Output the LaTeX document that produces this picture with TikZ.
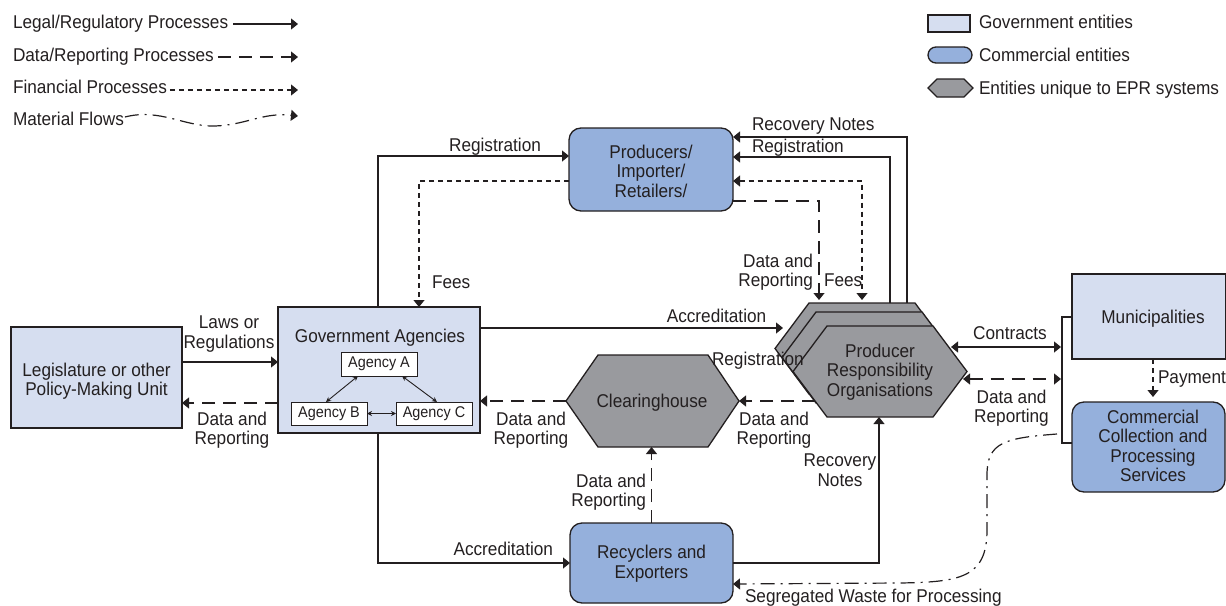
\documentclass[tikz,border=0pt]{standalone}
\usepackage{fontspec}
\setmainfont{Liberation Sans}[FakeStretch=0.93]
\usetikzlibrary{arrows.meta,calc}
\definecolor{ink}{HTML}{231F20}
\definecolor{govc}{HTML}{D6DEF0}
\definecolor{comc}{HTML}{95B0DC}
\definecolor{eprc}{HTML}{999A9E}
\newcommand{\lblfont}{\fontsize{18.5}{19.5}\selectfont}
\newcommand{\agfont}{\fontsize{15.5}{17}\selectfont}
\begin{document}
\begin{tikzpicture}[x=1pt,y=-1pt,
  every node/.style={text=ink, font=\lblfont, inner sep=0pt, outer sep=0pt},
  lbl/.style={align=center},
  gbox/.style={draw=ink, line width=1.3pt, fill=govc},
  cbox/.style={draw=ink, line width=1.3pt, fill=comc, rounded corners=12pt},
  ebox/.style={draw=ink, line width=1.3pt, fill=eprc, line join=miter},
  agbox/.style={draw=ink, line width=1pt, fill=white, font=\agfont, minimum width=76pt, minimum height=23pt},
  conn/.style={draw=ink, line width=1.2pt},
  arr/.style={-{Triangle[length=7pt,width=11pt]}},
  arrr/.style={{Triangle[length=7pt,width=11pt]}-{Triangle[length=7pt,width=11pt]}},
  agarr/.style={draw=ink, line width=0.9pt, {Stealth[length=5pt,width=5pt]}-{Stealth[length=5pt,width=5pt]}},
  data/.style={dash pattern=on 13pt off 8pt},
  fin/.style={dash pattern=on 5pt off 4pt},
  mat/.style={dash pattern=on 14pt off 6pt on 2pt off 6pt}
]
\useasboundingbox (0,0) rectangle (1226,605);

% ---------- legend left ----------
\node[anchor=base west] (l1) at (13,28) {Legal/Regulatory Processes};
\node[anchor=base west] (l2) at (13,61) {Data/Reporting Processes};
\node[anchor=base west] (l3) at (13,93) {Financial Processes};
\node[anchor=base west] (l4) at (13,125) {Material Flows};
\coordinate (l1e) at (298,24);
\coordinate (l2e) at (298,57);
\coordinate (l3e) at (298,90);
\coordinate (l4e) at (298,116);
\draw[conn,arr] ([xshift=5pt]l1.east |- l1e) -- (l1e);
\draw[conn,data,arr] ([xshift=4pt]l2.east |- l2e) -- (l2e);
\draw[conn,fin,arr] ([xshift=3pt]l3.east |- l3e) -- (l3e);
\draw[conn,mat,arr] ([xshift=1pt]l4.east |- 0,117) .. controls (160,108) and (185,127) .. (215,126)
   .. controls (245,125) and (262,113) .. (288,115) -- (l4e);

% ---------- legend right ----------
\node[gbox, minimum width=42pt, minimum height=17pt] (lg1) at (949,23.5) {};
\node[cbox, rounded corners=8pt, minimum width=44pt, minimum height=16pt] (lg2) at (950,55) {};
\draw[ebox] (928,88) -- (937,79) -- (964,79) -- (973,88) -- (964,97) -- (937,97) -- cycle;
\node[anchor=base west] (lt1) at (979,28) {Government entities};
\node[anchor=base west] (lt2) at (979,61) {Commercial entities};
\node[anchor=base west] (lt3) at (979,94) {Entities unique to EPR systems};

% ---------- boxes ----------
\node[gbox, minimum width=171pt, minimum height=101pt] (leg) at (96.5,377.5) {};
\node[lbl] (legt) at (96.5,381) {Legislature or other\\Policy-Making Unit};

\node[gbox, minimum width=202pt, minimum height=126pt] (gov) at (379,370) {};
\node[anchor=base] (govt) at (380,342) {Government Agencies};
\node[agbox, minimum height=24pt] (agA) at (379,364) {Agency A};
\node[agbox] (agB) at (329,413.5) {Agency B};
\node[agbox] (agC) at (434,413.5) {Agency C};
\draw[agarr] ([xshift=-21pt]agA.south) -- ([xshift=-3pt]agB.north);
\draw[agarr] ([xshift=23pt]agA.south) -- ([xshift=3pt]agC.north);
\draw[agarr] (agB.east) -- (agC.west);

\node[cbox, minimum width=164pt, minimum height=83pt] (prod) at (651,169.5) {};
\node[lbl] (prodt) at (651,171) {Producers/\\Importer/\\Retailers/};

\node[cbox, minimum width=163pt, minimum height=80pt] (rec) at (651.5,563) {};
\node[lbl] (rect) at (651.5,563.5) {Recyclers and\\Exporters};

\node[gbox, minimum width=154pt, minimum height=85pt] (mun) at (1149,316.5) {};
\node[anchor=base] (munt) at (1153,323) {Municipalities};

\node[cbox, minimum width=153pt, minimum height=90pt] (com) at (1148.5,447) {};
\node[lbl] (comt) at (1153,446) {Commercial\\Collection and\\Processing\\Services};

% clearinghouse
\draw[ebox] (566,401) -- (598,355) -- (708,355) -- (739,401) -- (708,447) -- (598,447) -- cycle;
\node[anchor=base] (ch) at (652,407) {Clearinghouse};
\coordinate (chW) at (566,401);
\coordinate (chE) at (739,401);
\coordinate (chS) at (651.5,447);

% producer responsibility organisations
\foreach \dx/\dy in {-18/-23,-11/-14,0/0}
  \draw[ebox,shift={(\dx,\dy)}] (793,371.5) -- (827,326) -- (933,326) -- (967,371.5) -- (933,417) -- (827,417) -- cycle;
\node[lbl] (pro) at (880,372) {Producer\\Responsibility\\Organisations};
\node[anchor=base west] (proreg) at (712,365) {Registration};
\coordinate (proTA) at (819,300);
\coordinate (proTB) at (862,300);
\coordinate (proTC) at (890,303);
\coordinate (proTD) at (907,303);
\coordinate (proL) at (783,328);
\coordinate (proDL) at (815,401);
\coordinate (proC) at (951,347);
\coordinate (proD) at (963,379);
\coordinate (proB) at (879,417);

% bracket at the right
\coordinate (brT) at (1062,317);
\coordinate (brB) at (1062,443);
\coordinate (brC) at (1061,347);
\coordinate (brD) at (1061,379);
\draw[conn] (mun.west |- brT) -- (brT) -- (brB) -- (com.west |- brB);

% ---------- connectors ----------
\draw[conn,arr] (leg.east |- 0,362) -- (gov.west |- 0,362);
\node[lbl] (lawsl) at (229,334) {Laws or\\Regulations};
\draw[conn,data,arr] (gov.west |- 0,403) -- (leg.east |- 0,403);
\node[lbl] (d1) at (232,430) {Data and\\Reporting};

\draw[conn,arr] (gov.north -| 378,0) |- (prod.west |- 0,156);
\node[anchor=base] (regl) at (495,151) {Registration};
\draw[conn,fin,arr] (prod.west |- 0,181) -| (gov.north -| 419,0);
\node[anchor=base west] (feesl) at (432,288) {Fees};

\draw[conn,arr] (gov.east |- 0,328) -- (proL);
\node[anchor=base] (accl1) at (716.5,322) {Accreditation};

\draw[conn,arr] (gov.south -| 378,0) |- (rec.west);
\node[anchor=base east] (accl2) at (553,555) {Accreditation};

\draw[conn,data,arr] (chW) -- (gov.east |- chW);
\node[lbl] (d2) at (531,430) {Data and\\Reporting};
\draw[conn,data,arr] (proDL) -- (chE);
\node[lbl] (d3) at (774,430) {Data and\\Reporting};

\draw[conn,data,arr] (rec.north) -- (chS);
\node[lbl, align=right, anchor=east] (d4) at (646,492) {Data and\\Reporting};

\draw[conn,arr] (rec.east) -| (proB);
\node[lbl] (recn) at (840,470) {Recovery\\Notes};

\draw[conn,arr] (proTD) |- (prod.east |- 0,137);
\node[anchor=base west] (recnl) at (752,130) {Recovery Notes};
\draw[conn,arr] (proTC) |- (prod.east |- 0,157);
\node[anchor=base west] (regl2) at (752,152) {Registration};
\draw[conn,fin,arrr] (prod.east |- 0,181) -| (proTB);
\node[anchor=base west] (feesl2) at (824,286) {Fees};
\draw[conn,data,arr] (prod.east |- 0,201) -| (proTA);
\node[lbl, align=right, anchor=east] (d5) at (813,272) {Data and\\Reporting};

\draw[conn,arrr] (proC) -- (brC);
\node[anchor=base] (contl) at (1010,339) {Contracts};
\draw[conn,data,arrr] (proD) -- (brD);
\node[lbl] (d6) at (1011.5,408) {Data and\\Reporting};

\coordinate (payE) at (1153,397);
\draw[conn,fin,arr] (mun.south -| payE) -- (payE);
\node[anchor=base west] (payl) at (1158,383) {Payment};

\coordinate (mfS) at (1057,434);
\draw[conn,mat,arr] (mfS) .. controls (1005,438) and (987,442) .. (987,475) -- (987,530)
   .. controls (987,578) and (960,582) .. (900,583) -- (rec.east |- 0,584);
\node[anchor=base west] (segl) at (745,602) {Segregated Waste for Processing};
\end{tikzpicture}
\end{document}
